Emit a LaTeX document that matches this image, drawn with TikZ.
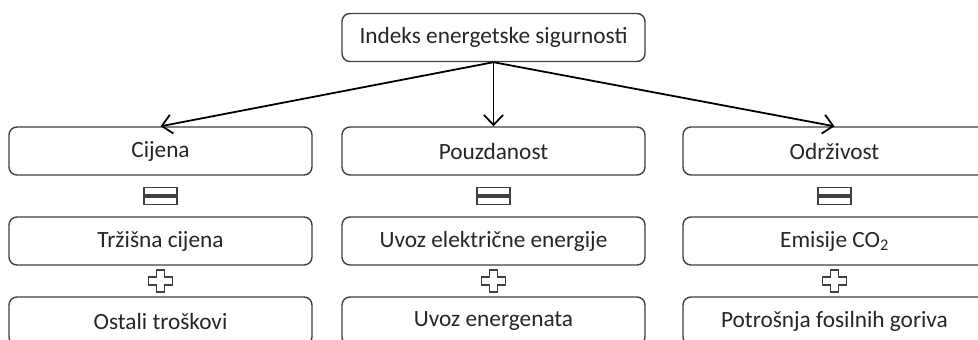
\documentclass[tikz,border=0pt]{standalone}
\usepackage{fontspec}
\setmainfont{Carlito}
\usetikzlibrary{arrows.meta,calc}
\definecolor{boxline}{HTML}{404040}
\definecolor{txt}{HTML}{262626}
\tikzset{
  box/.style={draw=boxline, line width=1.4pt, rounded corners=8pt, minimum width=303pt, minimum height=48pt, inner sep=0pt, text=txt, font=\fontsize{23.3}{26}\selectfont, fill=white},
  conn/.style={draw=black, line width=1.8pt, -{Straight Barb[length=10pt,width=19pt,line width=1.8pt]}},
  symb/.style={draw=boxline, line width=1.4pt},
  eqsym/.pic={\draw[symb] (-16.5,1) rectangle (16.5,8.5); \draw[symb] (-16.5,-1) rectangle (16.5,-8.5);},
  plussym/.pic={\draw[symb] (-4,11) -- (4,11) -- (4,4) -- (12,4) -- (12,-4) -- (4,-4) -- (4,-11) -- (-4,-11) -- (-4,-4) -- (-12,-4) -- (-12,4) -- (-4,4) -- cycle;}
}
\begin{document}
\begin{tikzpicture}[x=1pt,y=1pt]
\useasboundingbox (0,0) rectangle (978,340);
\clip (0,0) rectangle (978,340);
\node[box] (top) at (493.5,302.5) {Indeks energetske sigurnosti};
\node[box] (a1) at (160.5,189) {Cijena};
\node[box] (b1) at (493.5,189) {Pouzdanost};
\node[box] (c1) at (834.5,189) {Održivost};
\node[box] (a2) at (160.5,99) {Tržišna cijena};
\node[box] (b2) at (493.5,99) {Uvoz električne energije};
\node[box] (c2) at (834.5,99) {Emisije CO\textsubscript{2}};
\node[box] (a3) at (160.5,19) {Ostali troškovi};
\node[box] (b3) at (493.5,19) {Uvoz energenata};
\node[box] (c3) at (834.5,19) {Potrošnja fosilnih goriva};
\draw[conn] (top.south) -- (a1.north);
\draw[conn] (top.south) -- (b1.north);
\draw[conn] (top.south) -- (c1.north);
\foreach \c in {a,b,c}{
  \pic at ($(\c1.south)!0.5!(\c2.north)$) {eqsym};
  \pic at ($(\c2.south)!0.5!(\c3.north)$) {plussym};
}
\end{tikzpicture}
\end{document}
